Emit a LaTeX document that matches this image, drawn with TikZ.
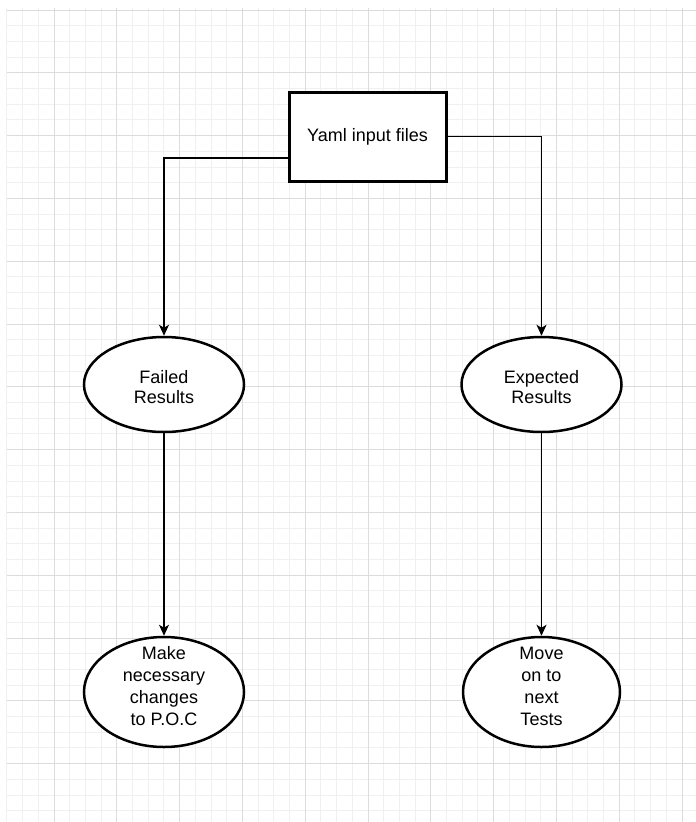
\documentclass[tikz,border=0pt]{standalone}
\usepackage{fontspec}
\setmainfont{Liberation Sans}
\usetikzlibrary{arrows.meta,shapes.geometric}
\definecolor{gmin}{HTML}{F0F0F0}
\definecolor{gmaj}{HTML}{DCDCDC}
\begin{document}
\begin{tikzpicture}[x=1pt,y=-1pt,
  boxnode/.style={draw, line width=3pt, minimum width=157pt, minimum height=89pt, inner sep=0pt, font=\fontsize{18}{21}\selectfont},
  ellnode/.style={draw, ellipse, line width=2.5pt, inner sep=0pt},
  txttwo/.style={align=center, inner sep=0pt, font=\fontsize{18}{20.5}\selectfont},
  txtfour/.style={align=center, inner sep=0pt, font=\fontsize{18}{22}\selectfont},
  conn/.style={line width=1.5pt, -{Stealth[length=11pt,width=10pt,inset=3pt]}},
  minorline/.style={gmin, line width=1pt},
  majorline/.style={gmaj, line width=1pt}]
\useasboundingbox (0,0) rectangle (696,822);
\fill[white] (0,0) rectangle (696,822);
% grid
\foreach \i in {0,...,44} { \draw[minorline] ({6.9+15.7*\i},8) -- ({6.9+15.7*\i},822); }
\foreach \j in {0,...,51} { \draw[minorline] (7,{10+15.7*\j}) -- (696,{10+15.7*\j}); }
\foreach \i in {0,...,10} { \draw[majorline] ({54+62.8*\i},8) -- ({54+62.8*\i},822); }
\foreach \j in {0,...,12} { \draw[majorline] (7,{10+62.8*\j}) -- (696,{10+62.8*\j}); }
% nodes
\node[boxnode, fill=white] (yaml) at (367.5,136.5) {Yaml input files};
\node[ellnode, fill=white, minimum width=160pt, minimum height=95pt] (fail) at (164,384.5) {};
\node[ellnode, fill=white, minimum width=160pt, minimum height=95pt] (exp) at (541.5,384.5) {};
\node[ellnode, fill=white, minimum width=160pt, minimum height=110pt] (make) at (164,692) {};
\node[ellnode, fill=white, minimum width=157pt, minimum height=110pt] (move) at (541.5,692) {};
\node[txttwo] (failT) at (164,387) {Failed\\Results};
\node[txttwo] (expT) at (541.5,387) {Expected\\Results};
\node[txtfour] (makeT) at (164,686.5) {Make\\necessary\\changes\\to P.O.C};
\node[txtfour] (moveT) at (541.5,686.5) {Move\\on to\\next\\Tests};
% connectors
\draw[conn] ([yshift=-21.5pt]yaml.west) -| (fail.north);
\draw[conn] (yaml.east) -| (exp.north);
\draw[conn] (fail.south) -- (make.north);
\draw[conn] (exp.south) -- (move.north);
\end{tikzpicture}
\end{document}
